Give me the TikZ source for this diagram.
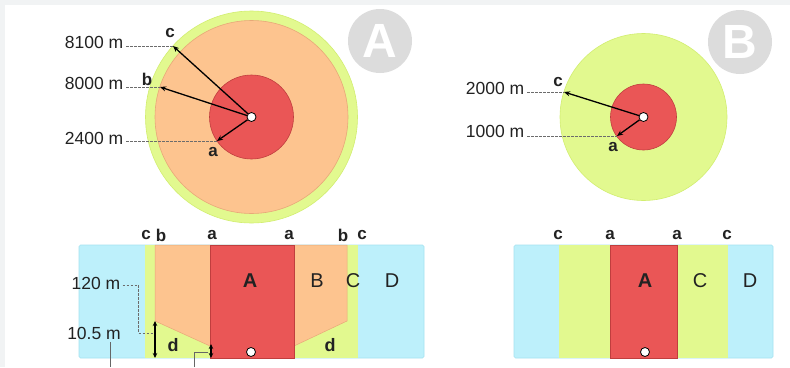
\documentclass[tikz,border=0pt]{standalone}
\usepackage{fontspec}
\setmainfont{Liberation Sans}
\usetikzlibrary{arrows.meta}
\definecolor{cblue}{HTML}{BDF0FB}
\definecolor{cblueE}{HTML}{A5E2F0}
\definecolor{cyel}{HTML}{E2F98F}
\definecolor{cyelE}{HTML}{D2EE70}
\definecolor{corg}{HTML}{FDC48F}
\definecolor{corgE}{HTML}{E8A878}
\definecolor{cred}{HTML}{EA5656}
\definecolor{credE}{HTML}{C03E3E}
\definecolor{cbadge}{HTML}{DCDCDC}
\definecolor{cframe}{HTML}{F1F3F4}
\definecolor{ctext}{HTML}{222222}
\tikzset{
  x=1pt, y=-1pt,
  lbl/.style={inner sep=0pt, font=\fontsize{17.5}{17.5}\selectfont, text=ctext},
  ltr/.style={inner sep=0pt, font=\fontsize{17}{17}\selectfont\bfseries, text=ctext},
  zone/.style={inner sep=0pt, font=\fontsize{20}{20}\selectfont, text=ctext},
  zoneb/.style={inner sep=0pt, font=\fontsize{20}{20}\selectfont\bfseries, text=ctext},
  badge/.style={circle, fill=cbadge, minimum size=64pt, inner sep=0pt, text=white, font=\fontsize{48}{48}\selectfont\bfseries},
  dot/.style={circle, fill=white, draw=black, line width=0.8pt, minimum size=9pt, inner sep=0pt},
  radius arrow/.style={-{Stealth[length=6pt,width=5pt]}, line width=1.3pt, black},
  dimarrow/.style={{Stealth[length=5pt,width=4.5pt]}-{Stealth[length=5pt,width=4.5pt]}, line width=1.3pt, black},
  guide/.style={gray!85!black, line width=0.8pt, dash pattern=on 2.5pt off 1.5pt},
  leader/.style={gray!80!black, line width=0.9pt},
}
\begin{document}
\begin{tikzpicture}
\useasboundingbox (0,0) rectangle (790,367);
\fill[cframe] (0,0) rectangle (790,367);
\fill[white] (5,5) rectangle (790,367);

% ---------------- Circle A ----------------
\fill[cyel, draw=cyelE, line width=0.6pt] (251.5,117) circle[radius=106];
\fill[corg, draw=corgE, line width=0.6pt] (251.5,117) circle[radius=96.5];
\fill[cred, draw=credE, line width=0.6pt] (251.5,117) circle[radius=42];
\node[dot] (cA) at (251.5,117) {};
\coordinate (tAc) at (173,46);
\coordinate (tAb) at (160,87);
\coordinate (tAa) at (217,141);
\node[lbl] (l8100) at (94,42) {8100 m};
\node[lbl] (l8000) at (94,83) {8000 m};
\node[lbl] (l2400) at (94,138) {2400 m};
\draw[guide] (l8100.east |- tAc) ++(3,0) -- (tAc);
\draw[guide] (l8000.east |- tAb) ++(3,0) -- (tAb);
\draw[guide] (l2400.east |- tAa) ++(3,0) -- (tAa);
\draw[radius arrow] (cA) -- (tAc);
\draw[radius arrow] (cA) -- (tAb);
\draw[radius arrow] (cA) -- (tAa);
\node[ltr] (nAc) at (170,33) {c};
\node[ltr] (nAb) at (147,79) {b};
\node[ltr] (nAa) at (213,152) {a};
\node[badge] (bA) at (380,41) {A};

% ---------------- Circle B ----------------
\fill[cyel, draw=cyelE, line width=0.6pt] (643.5,117) circle[radius=83.5];
\fill[cred, draw=credE, line width=0.6pt] (643.5,117) circle[radius=33];
\node[dot] (cB) at (643.5,117) {};
\coordinate (tBc) at (564,92);
\coordinate (tBa) at (617,136);
\node[lbl] (l2000) at (495,88) {2000 m};
\node[lbl] (l1000) at (495,131) {1000 m};
\draw[guide] (l2000.east |- tBc) ++(3,0) -- (tBc);
\draw[guide] (l1000.east |- tBa) ++(3,0) -- (tBa);
\draw[radius arrow] (cB) -- (tBc);
\draw[radius arrow] (cB) -- (tBa);
\node[ltr] (nBc) at (558,82) {c};
\node[ltr] (nBa) at (613,147) {a};
\node[badge] (bB) at (740,42) {B};

% ---------------- Section A ----------------
\fill[cblue, draw=cblueE, line width=0.6pt, rounded corners=1.5pt] (79,245) rectangle (424,358);
\fill[cyel] (145,245) rectangle (358,358);
\fill[corg, draw=corgE, line width=0.5pt] (155,245) -- (347,245) -- (347,321) -- (294,346) -- (210,346) -- (155,321) -- cycle;
\fill[cred, draw=credE, line width=0.6pt] (210,245) rectangle (294,358);
\node[dot] (sA) at (251,352) {};
\node[ltr] (hA1) at (146,235) {c};
\node[ltr] (hA2) at (161,235) {b};
\node[ltr] (hA3) at (212,235) {a};
\node[ltr] (hA4) at (289,235) {a};
\node[ltr] (hA5) at (343,235) {b};
\node[ltr] (hA6) at (362,235) {c};
\node[zoneb] (zA) at (250,281) {A};
\node[zone] (zB) at (317,281) {B};
\node[zone] (zC) at (353,281) {C};
\node[zone] (zD) at (392,281) {D};
\node[ltr, font=\fontsize{18}{18}\selectfont\bfseries] (d1) at (173,345) {d};
\node[ltr, font=\fontsize{18}{18}\selectfont\bfseries] (d2) at (330,345) {d};
\coordinate (dTop) at (155,321);
\coordinate (dBot) at (155,358);
\coordinate (eTop) at (211,344);
\coordinate (eBot) at (211,358);
\draw[dimarrow] (dTop) -- (dBot);
\draw[dimarrow] (eTop) -- (eBot);
\node[lbl] (l120) at (96,283) {120 m};
\node[lbl] (l105) at (94,333) {10.5 m};
\draw[guide] (l120.east) ++(2,2) -- ++(16,0) |- (153,333);
\coordinate (p1) at (110,342);
\coordinate (p2) at (110,367);
\draw[leader] (p1) -- (p2);
\coordinate (q1) at (194,367);
\coordinate (q2) at (208,352);
\draw[leader] (q1) |- (q2);

% ---------------- Section B ----------------
\fill[cblue, draw=cblueE, line width=0.6pt, rounded corners=1.5pt] (514,245) rectangle (773,358);
\fill[cyel] (559,245) rectangle (728,358);
\fill[cred, draw=credE, line width=0.6pt] (610,245) rectangle (677,358);
\node[dot] (sB) at (645,352) {};
\node[ltr] (hB1) at (558,235) {c};
\node[ltr] (hB2) at (610,235) {a};
\node[ltr] (hB3) at (677,235) {a};
\node[ltr] (hB4) at (727,235) {c};
\node[zoneb] (zA2) at (645,281) {A};
\node[zone] (zC2) at (700,281) {C};
\node[zone] (zD2) at (750,281) {D};
\end{tikzpicture}
\end{document}
